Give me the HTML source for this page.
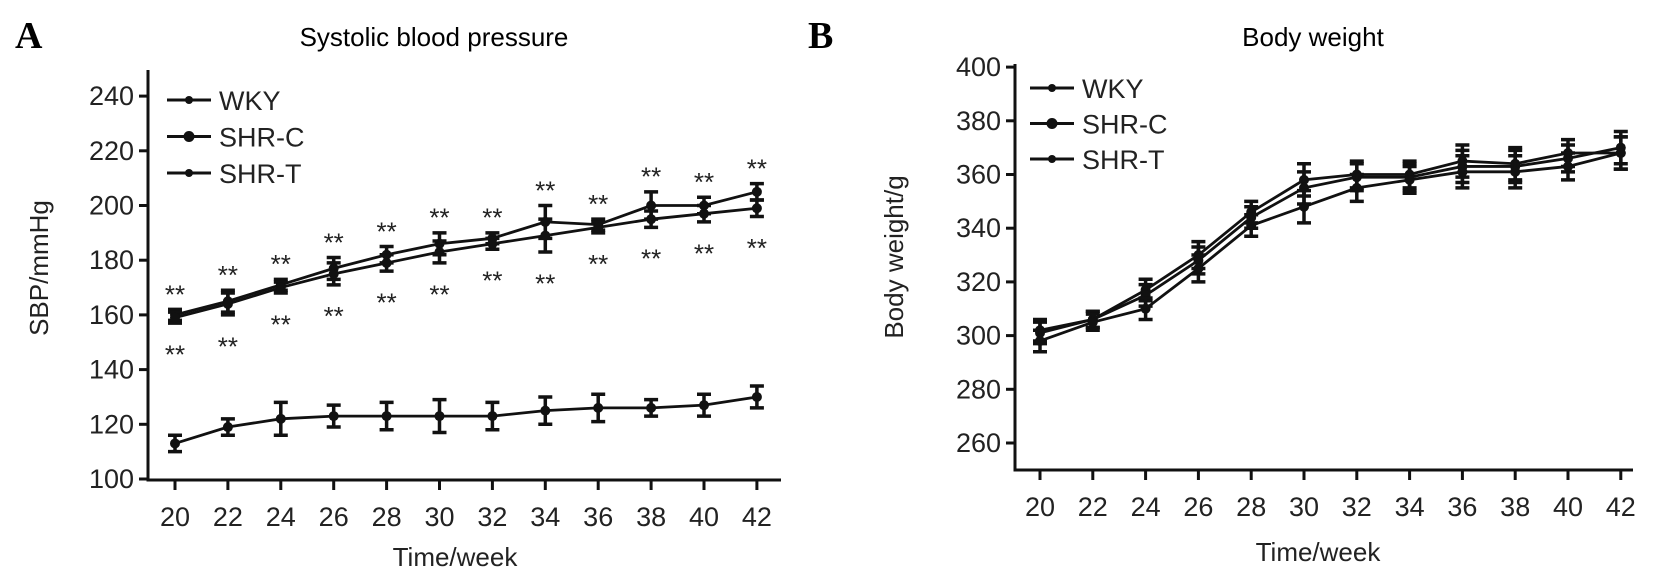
<!DOCTYPE html>
<html><head><meta charset="utf-8">
<style>
html,body{margin:0;padding:0;background:#fff;}
svg{display:block;font-family:"Liberation Sans",Arial,sans-serif;}
</style></head>
<body>
<svg width="1654" height="584" viewBox="0 0 1654 584">
<g id="chart">
<text x="15" y="48" font-family="Liberation Serif" font-weight="bold" font-size="38">A</text>
<text x="808" y="48" font-family="Liberation Serif" font-weight="bold" font-size="38">B</text>
<text x="434" y="46" text-anchor="middle" font-size="26">Systolic blood pressure</text>
<text x="1313" y="46" text-anchor="middle" font-size="26">Body weight</text>
</g>
</svg>
<script>
const weeks=[20,22,24,26,28,30,32,34,36,38,40,42];
const sbpTicks=[100,120,140,160,180,200,220,240];
const sbpWKY=[113,119,122,123,123,123,123,125,126,126,127,130];
const sbpWKYErr=[3,3,6,4,5,6,5,5,5,3,4,4];
const sbpSHRC=[160,165,171,177,182,186,188,194,193,200,200,205];
const sbpSHRCErr=[2,4,2,4,3,4,2,6,2,5,3,3];
const sbpSHRT=[159,164,170,175,179,183,186,189,192,195,197,199];
const sbpSHRTErr=[2,4,2,4,3,4,2,6,2,3,3,3];
const bwTicks=[260,280,300,320,340,360,380,400];
const bwWKY=[301,306,317,330,346,358,360,360,365,364,368,368];
const bwSHRC=[302,306,315,328,344,355,359,359,363,363,366,370];
const bwSHRT=[298,305,310,325,341,348,355,358,361,361,363,368];
const bwErr=[4,3,4,5,4,6,5,5,6,6,5,6];

const NS="http://www.w3.org/2000/svg";
const svg=document.getElementById('chart');
function mk(tag,attrs,parent){const e=document.createElementNS(NS,tag);for(const k in attrs)e.setAttribute(k,attrs[k]);(parent||svg).appendChild(e);return e;}

function panel(cfg){
  const g=mk('g',{});
  
  
  const xs=w=>cfg.x0+(w-20)/2*cfg.xstep;
  const ys=v=>cfg.yBase-(v-cfg.yMin)/20*cfg.ystep;
  const ax=mk('path',{d:`M${cfg.ax},${cfg.yTop} V${cfg.axY} H${cfg.axR}`,stroke:'#111','stroke-width':3,fill:'none'},g);
  
  
  cfg.yt.forEach(t=>{
    mk('line',{x1:cfg.ax-9,x2:cfg.ax,y1:ys(t),y2:ys(t),stroke:'#111','stroke-width':3},g);
    const tx=mk('text',{x:cfg.ax-14,y:ys(t)+9,'text-anchor':'end','font-size':27,fill:'#222'},g);
    tx.textContent=t;
    
    
  });
  weeks.forEach(w=>{
    mk('line',{x1:xs(w),x2:xs(w),y1:cfg.axY,y2:cfg.axY+10,stroke:'#111','stroke-width':3},g);
    const tx=mk('text',{x:xs(w),y:cfg.lblY,'text-anchor':'middle','font-size':27,fill:'#222'},g);
    tx.textContent=w;
    
    
  });
  const xt=mk('text',{x:cfg.xtX,y:cfg.xtY,'text-anchor':'middle','font-size':26,fill:'#222'},g);
  xt.textContent='Time/week';
  
  
  const yt=mk('text',{x:0,y:0,'text-anchor':'middle','font-size':26,fill:'#222',transform:`translate(${cfg.ytx},${cfg.yty}) rotate(-90)`},g);
  yt.textContent=cfg.ytitle;
  
  
  cfg.series.forEach((s,si)=>{
    const sg=mk('g',{},g);
    
    
    mk('polyline',{points:s.v.map((v,i)=>xs(weeks[i])+','+ys(v)).join(' '),fill:'none',stroke:'#111','stroke-width':2.8},sg);
    s.v.forEach((v,i)=>{
      const x=xs(weeks[i]),e=s.e[i];
      const p=mk('path',{d:`M${x},${ys(v+e)} V${ys(v-e)} M${x-7},${ys(v+e)} H${x+7} M${x-7},${ys(v-e)} H${x+7}`,stroke:'#111','stroke-width':3.5,fill:'none'},sg);
      
      
      const m=mk('circle',{cx:x,cy:ys(v),r:5,fill:'#111'},sg);
      
      
    });
  });
  cfg.legend.forEach((l,i)=>{
    const y=cfg.lgY+i*cfg.lgStep;
    const lg=mk('g',{},g);
    
    
    mk('line',{x1:cfg.lgX,x2:cfg.lgX+44,y1:y,y2:y,stroke:'#111','stroke-width':3},lg);
    mk('circle',{cx:cfg.lgX+22,cy:y,r:i==1?5.5:4,fill:'#111'},lg);
    const t=mk('text',{x:cfg.lgX+52,y:y+10,'font-size':27,fill:'#222'},lg);
    t.textContent=l;
  });
  return {xs,ys,g};
}

const A=panel({name:'sbp-chart',x0:175,xstep:52.9,yBase:479,yMin:100,ystep:54.7,ax:148,yTop:70,axY:480,axR:781,lblY:526,xtX:455,xtY:566,
  yt:sbpTicks,ytitle:'SBP/mmHg',ytx:48,yty:268,lgX:167,lgY:100,lgStep:36.5,legend:['WKY','SHR-C','SHR-T'],
  series:[{label:'WKY',v:sbpWKY,e:sbpWKYErr},{label:'SHRC',v:sbpSHRC,e:sbpSHRCErr},{label:'SHRT',v:sbpSHRT,e:sbpSHRTErr}]});
weeks.forEach((w,i)=>{
  const t1=mk('text',{x:A.xs(w),y:A.ys(sbpSHRC[i]+sbpSHRCErr[i]+7)+13,'text-anchor':'middle','font-size':26,fill:'#222'},A.g);
  t1.textContent='**';
  
  
  const t2=mk('text',{x:A.xs(w),y:A.ys(sbpSHRT[i]-sbpSHRTErr[i]-10)+13,'text-anchor':'middle','font-size':26,fill:'#222'},A.g);
  t2.textContent='**';
  
  
});
panel({name:'body-weight-chart',x0:1040,xstep:52.8,yBase:443,yMin:260,ystep:53.7,ax:1015,yTop:64,axY:470,axR:1633,lblY:516,xtX:1318,xtY:561,
  yt:bwTicks,ytitle:'Body weight/g',ytx:903,yty:257,lgX:1030,lgY:88,lgStep:35.5,legend:['WKY','SHR-C','SHR-T'],
  series:[{label:'WKY',v:bwWKY,e:bwErr},{label:'SHRC',v:bwSHRC,e:bwErr},{label:'SHRT',v:bwSHRT,e:bwErr}]});
</script>
</body></html>
